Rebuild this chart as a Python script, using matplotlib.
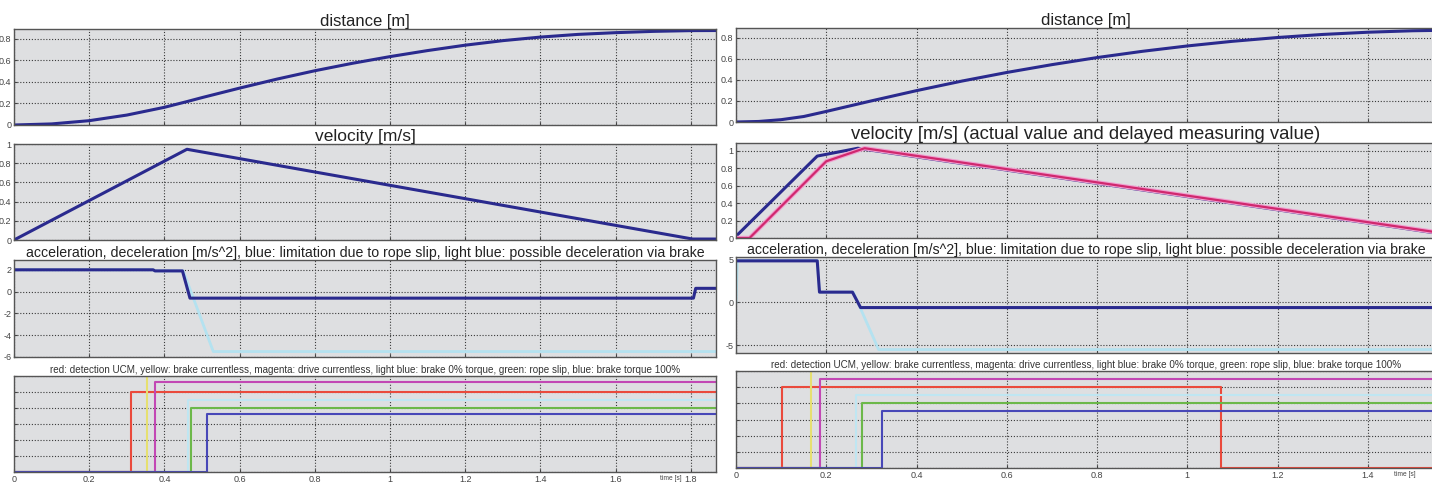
import matplotlib.pyplot as plt
import numpy as np

plt.rcParams['font.family'] = ['Liberation Sans', 'DejaVu Sans']
plt.rcParams['axes.unicode_minus'] = False

# ---- left column (slow case) ----
L_t_dist = [0, 0.1, 0.2, 0.3, 0.4, 0.46, 0.5, 0.6, 0.7, 0.8, 0.9, 1.0, 1.1, 1.2, 1.3, 1.4, 1.5, 1.6, 1.7, 1.8, 1.87]
L_dist = [0, 0.01, 0.04, 0.092, 0.164, 0.217, 0.254, 0.342, 0.426, 0.503, 0.572, 0.634, 0.69, 0.74, 0.782, 0.815, 0.84, 0.856, 0.868, 0.875, 0.876]
L_t_vel = [0, 0.46, 1.805, 1.87]
L_vel = [0, 0.945, 0.01, 0.01]
L_t_acc = [0, 0.37, 0.375, 0.448, 0.468, 1.807, 1.813, 1.87]
L_acc = [2.0, 2.0, 1.9, 1.9, -0.6, -0.6, 0.3, 0.3]
L_t_brake = [0, 0.37, 0.375, 0.45, 0.53, 1.87]
L_brake = [2.0, 2.0, 1.9, 1.9, -5.5, -5.5]
L_sig_on = [0.31, 0.355, 0.375, 0.463, 0.472, 0.514]
L_sig_lvl = [5.0, 6.0, 5.6, 4.5, 4.0, 3.6]

# ---- right column (fast case) ----
R_t_dist = [0, 0.05, 0.1, 0.15, 0.2, 0.3, 0.4, 0.5, 0.6, 0.7, 0.8, 0.9, 1.0, 1.1, 1.2, 1.3, 1.4, 1.5, 1.56]
R_dist = [0, 0.005, 0.022, 0.052, 0.1, 0.2, 0.297, 0.387, 0.469, 0.543, 0.61, 0.669, 0.72, 0.764, 0.8, 0.829, 0.85, 0.864, 0.868]
R_t_vel = [0, 0.18, 0.27, 1.56]
R_vel = [0.02, 0.94, 1.03, 0.05]
R_t_vel_meas = [0, 0.03, 0.2, 0.285, 1.56]
R_vel_meas = [0, 0, 0.88, 1.03, 0.06]
R_t_acc = [0, 0.18, 0.185, 0.258, 0.276, 1.56]
R_acc = [4.85, 4.85, 1.2, 1.2, -0.6, -0.6]
R_t_brake = [0, 0.003, 0.18, 0.185, 0.26, 0.316, 1.56]
R_brake = [0, 4.9, 4.9, 1.2, 1.2, -5.5, -5.5]
R_sig_on = [0.102, 0.167, 0.186, 0.265, 0.28, 0.324]
R_sig_lvl = [5.0, 6.0, 5.5, 4.5, 4.0, 3.5]
R_red_off = 1.074

sig_colors = ['#ea4a3c', '#e6e070', '#c248b4', '#bfe6f2', '#6cb84a', '#4848b8']
sig_title = ('red: detection UCM, yellow: brake currentless, magenta: drive currentless, '
             'light blue: brake 0% torque, green: rope slip, blue: brake torque 100%')
acc_title = ('acceleration, deceleration [m/s^2], blue: limitation due to rope slip, '
             'light blue: possible deceleration via brake')

W, H = 1432, 486
fig = plt.figure(figsize=(W / 100, H / 100), dpi=100)
fig.patch.set_facecolor('white')

navy = '#2a2a8e'
bg = '#dedfe1'


def box(l, t, r, b):
    return [l / W, 1 - b / H, (r - l) / W, (b - t) / H]


def style(ax, xmax, xlabels=False):
    ax.set_facecolor(bg)
    ax.set_xlim(0, xmax)
    ticks = np.arange(0, xmax, 0.2)
    ax.set_xticks(ticks)
    ax.grid(True, color='#3a3a3a', linestyle=(0, (1, 1.6)), linewidth=0.8)
    ax.tick_params(labelsize=6.5, colors='#444444', length=2, direction='in', pad=2)
    for s in ax.spines.values():
        s.set_color('#555555')
        s.set_linewidth(1.0)
    if not xlabels:
        ax.set_xticklabels([])
    else:
        ax.set_xticklabels(['%g' % round(v, 1) for v in ticks])
        ax.tick_params(axis='x', pad=2)


def column(x0, x1, xmax, tops, t_d, d, t_v, v, t_a, a, t_b, b, on, lvl, vel_title,
           vel_fs, t_vm=None, vm=None, red_off=None, time_x=0):
    # distance
    ax = fig.add_axes(box(x0, tops[0][0], x1, tops[0][1]))
    style(ax, xmax)
    ax.plot(t_d, d, color=navy, lw=2.2)
    ax.set_ylim(0, 0.89)
    ax.set_yticks([0, 0.2, 0.4, 0.6, 0.8])
    ax.set_yticklabels(['0', '0.2', '0.4', '0.6', '0.8'])
    ax.set_title('distance [m]', fontsize=12, color='#222222', pad=2)

    # velocity
    ax = fig.add_axes(box(x0, tops[1][0], x1, tops[1][1]))
    style(ax, xmax)
    ax.plot(t_v, v, color=navy, lw=2.2)
    if t_vm is not None:
        ax.plot(t_vm, vm, color='#f0a0d0', lw=3.2)
        ax.plot(t_vm, vm, color='#d0286e', lw=1.6)
        ax.set_ylim(0, 1.09)
    else:
        ax.set_ylim(0, 1.0)
    ax.set_yticks([0, 0.2, 0.4, 0.6, 0.8, 1])
    ax.set_yticklabels(['0', '0.2', '0.4', '0.6', '0.8', '1'])
    ax.set_title(vel_title, fontsize=vel_fs, color='#222222', pad=2)

    # acceleration
    ax = fig.add_axes(box(x0, tops[2][0], x1, tops[2][1]))
    style(ax, xmax)
    ax.plot(t_b, b, color='#b4e2f0', lw=2.0)
    ax.plot(t_a, a, color=navy, lw=2.2)
    if t_vm is not None:
        ax.set_ylim(-5.9, 5.3)
        ax.set_yticks([5, 0, -5])
    else:
        ax.set_ylim(-6, 2.9)
        ax.set_yticks([2, 0, -2, -4, -6])
    ax.set_title(acc_title, fontsize=10.2, color='#222222', pad=2)

    # signals
    ax = fig.add_axes(box(x0, tops[3][0], x1, tops[3][1]))
    style(ax, xmax, xlabels=True)
    ax.set_ylim(0, 6)
    ax.set_yticks(range(7))
    ax.set_yticklabels([])
    for i, (t_on, y) in enumerate(zip(on, lvl)):
        if i == 0 and red_off is not None:
            xs = [0, t_on, t_on, red_off, red_off, xmax]
            ys = [0, 0, y, y, 0, 0]
        else:
            xs = [0, t_on, t_on, xmax]
            ys = [0, 0, y, y]
        ax.plot(xs, ys, color=sig_colors[i], lw=1.5)
    ax.set_title(sig_title, fontsize=7.1, color='#333333', pad=2)
    ax.text(time_x, -0.035, 'time [s]', transform=ax.transAxes, fontsize=4.8,
            color='#444444', ha='center', va='top')


column(14, 716, 1.867,
       [(29, 125), (144, 240), (260, 357), (376, 472)],
       L_t_dist, L_dist, L_t_vel, L_vel, L_t_acc, L_acc, L_t_brake, L_brake,
       L_sig_on, L_sig_lvl, 'velocity [m/s]', 12.5, time_x=0.935)

column(736, 1436, 1.551,
       [(28, 122), (143, 238), (257, 353), (371, 468)],
       R_t_dist, R_dist, R_t_vel, R_vel, R_t_acc, R_acc, R_t_brake, R_brake,
       R_sig_on, R_sig_lvl, 'velocity [m/s] (actual value and delayed measuring value)', 13.3,
       t_vm=R_t_vel_meas, vm=R_vel_meas, red_off=R_red_off, time_x=0.955)

fig.savefig('out.png', dpi=100, facecolor='white')
